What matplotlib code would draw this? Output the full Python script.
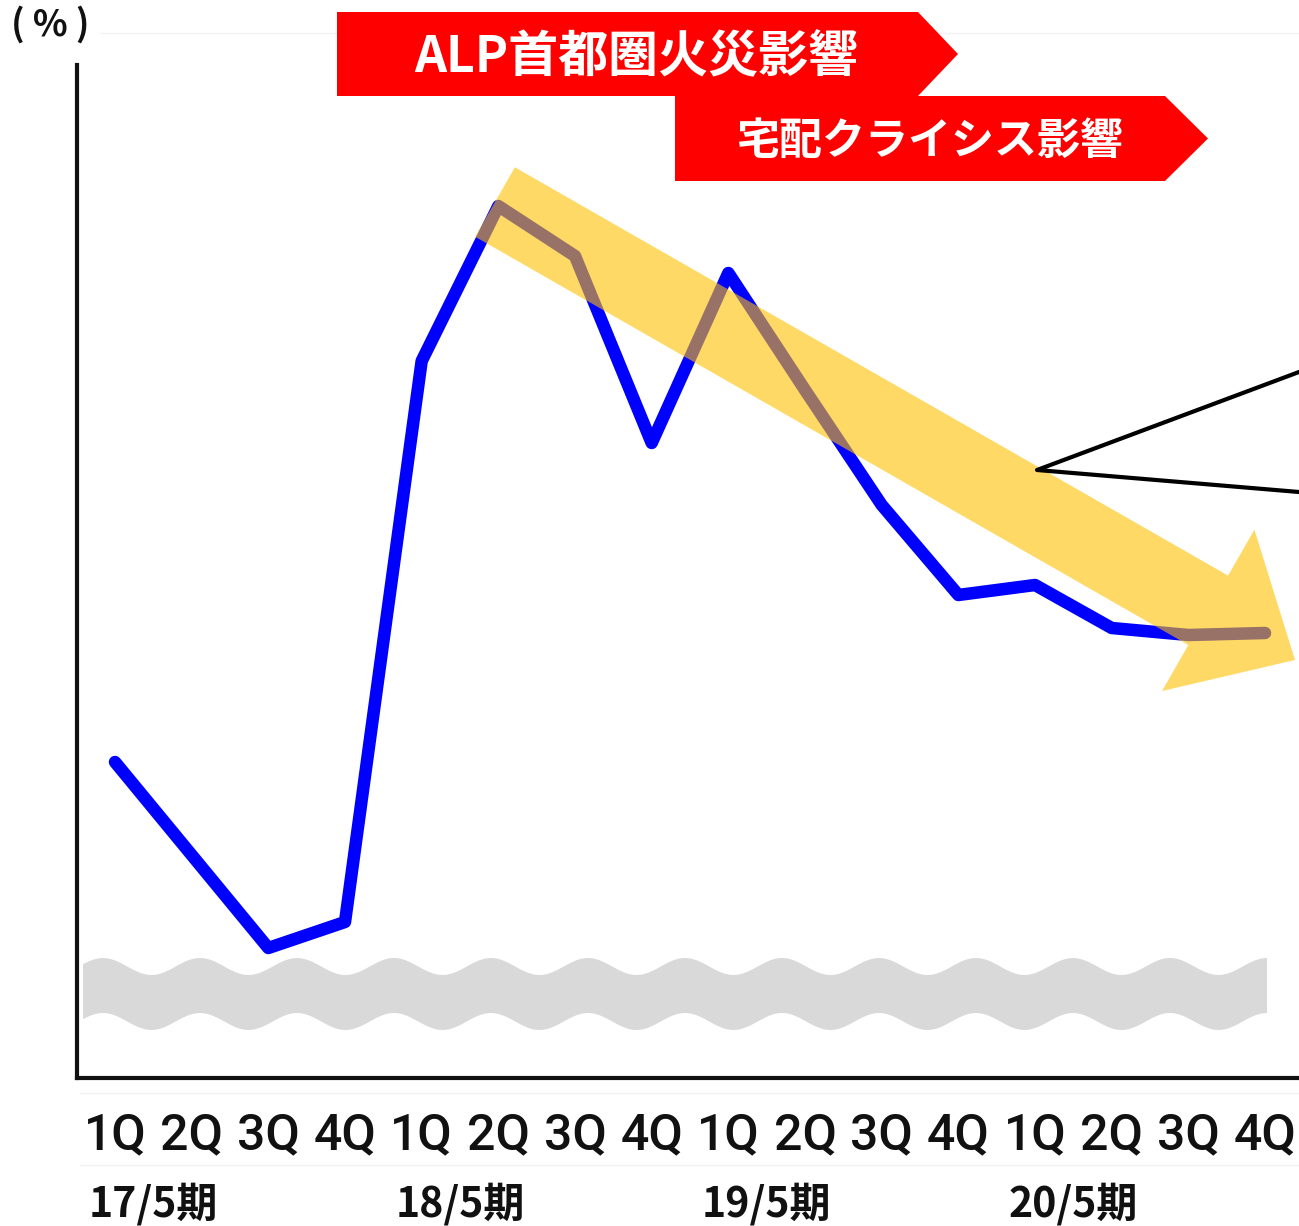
import numpy as np
import matplotlib.pyplot as plt
from matplotlib.patches import Polygon
from matplotlib.lines import Line2D
import matplotlib.transforms as mtransforms

W, H = 1299, 1226

# data (no y tick values in the source, so units are arbitrary)
quarters = ['1Q', '2Q', '3Q', '4Q'] * 4
periods = ['17/5期', '18/5期', '19/5期', '20/5期']
ratio = [3.16, 2.23, 1.30, 1.56, 7.17, 8.72, 8.22, 6.35,
         8.05, 6.88, 5.73, 4.83, 4.93, 4.50, 4.43, 4.45]
banner_texts = ['ALP首都圏火災影響', '宅配クライシス影響']

plt.rcParams['font.family'] = ['Noto Sans CJK JP', 'DejaVu Sans']

fig = plt.figure(figsize=(W / 100, H / 100), dpi=100)


def px(x, y):
    # pixel position (top-left origin) -> figure fraction
    return (x / W, 1 - y / H)


ax = fig.add_axes([77 / W, 1 - 1078 / H, 1 - 77 / W, (1078 - 65) / H])
xs = np.arange(len(ratio))
ax.plot(xs, ratio, color='#0000FF', lw=9, solid_capstyle='round',
        solid_joinstyle='round', zorder=3)
ax.set_xlim(-0.4956, 15.443)
ax.set_ylim(0, 10.13)

for s in ['top', 'right']:
    ax.spines[s].set_visible(False)
for s in ['left', 'bottom']:
    ax.spines[s].set_linewidth(3)
    ax.spines[s].set_color('#111111')
ax.set_yticks([])
ax.set_xticks(xs, quarters, fontfamily='Roboto', fontweight='medium',
              fontsize=36, color='#111111')
ax.tick_params(axis='x', length=0, pad=24)

# period labels under the quarters
trans = mtransforms.blended_transform_factory(ax.transData, ax.transAxes)
for i, p in enumerate(periods):
    ax.text(i * 4 + 0.5, -0.124, p, transform=trans, ha='center', va='center',
            fontsize=29.5, fontweight='bold', color='#111111')

# unit label
fig.text(*px(50, 25), '( % )', ha='center', va='center', fontsize=26,
         fontweight='bold', color='#111111')

# faint guide lines
for y0, x0 in [(33, 100), (1093, 80), (1165, 80)]:
    fig.add_artist(Line2D([x0 / W, 1], [1 - y0 / H] * 2, color='#F2F2F2', lw=1, zorder=-1))

# wavy gray break band
wx = np.linspace(83, 1267, 400)
top = 966.5 - 8.5 * np.cos(2 * np.pi * (wx - 103) / 97)
bot = top + 55
band = [px(a, b) for a, b in zip(wx, top)] + [px(a, b) for a, b in zip(wx[::-1], bot[::-1])]
ax.add_patch(Polygon(band, closed=True, transform=fig.transFigure, facecolor='#D9D9D9',
                     edgecolor='none', zorder=2, clip_on=False))

# red banners
banners = [(337, 918, 958, 12, 96), (675, 1165, 1208, 96, 181)]
for (x0, x1, xt, y0, y1), txt in zip(banners, banner_texts):
    ym = (y0 + y1) / 2
    pts = [px(x0, y0), px(x1, y0), px(xt, ym), px(x1, y1), px(x0, y1)]
    ax.add_patch(Polygon(pts, closed=True, transform=fig.transFigure, facecolor='#FF0000',
                         edgecolor='none', zorder=6, clip_on=False))
fig.text(*px(636, 58), banner_texts[0], ha='center', va='center', fontsize=36,
         fontweight='bold', color='white', zorder=7)
fig.text(*px(930, 141), banner_texts[1], ha='center', va='center', fontsize=31,
         fontweight='bold', color='white', zorder=7)

# big yellow trend arrow
c0 = np.array([495.0, 202.0])
tip = np.array([1295.0, 660.0])
d = (tip - c0) / np.linalg.norm(tip - c0)
n = np.array([d[1], -d[0]])
L = np.linalg.norm(tip - c0)
hw, hhw, hl = 40, 93, 100
arr = [c0 + hw * n, c0 + (L - hl) * d + hw * n, c0 + (L - hl) * d + hhw * n, tip,
       c0 + (L - hl) * d - hhw * n, c0 + (L - hl) * d - hw * n, c0 - hw * n]
ax.add_patch(Polygon([px(*p) for p in arr], closed=True, transform=fig.transFigure,
                     facecolor='#FFC000', alpha=0.6, edgecolor='none', zorder=4, clip_on=False))

# callout lines
cx = [1299, 1037, 1299]
cy = [372, 470, 492]
ax.add_artist(Line2D([a / W for a in cx], [1 - b / H for b in cy], color='black', lw=3,
                     transform=fig.transFigure, zorder=5, clip_on=False))

fig.savefig('out.png', dpi=100)
